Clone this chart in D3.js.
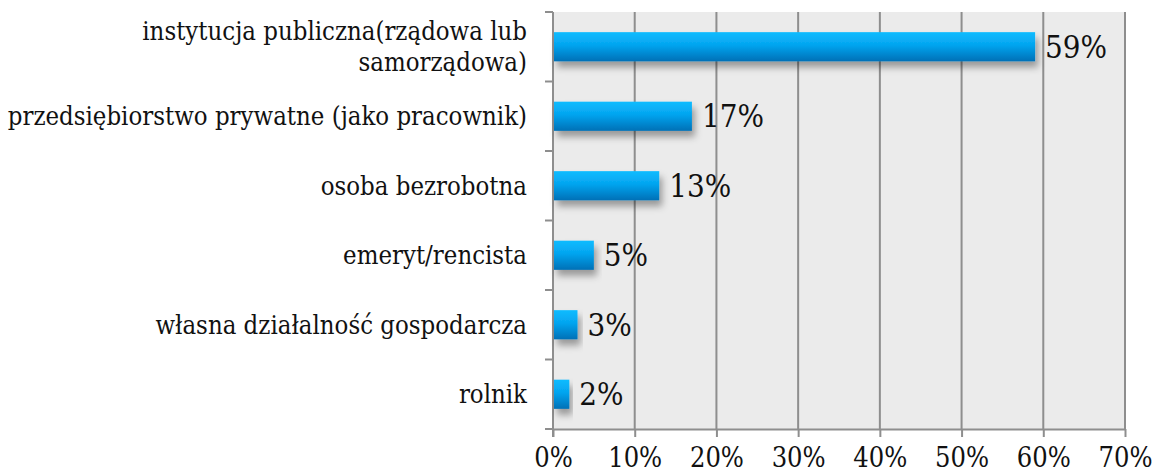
<!DOCTYPE html>
<html>
<head>
<meta charset="utf-8">
<script src="https://cdn.jsdelivr.net/npm/d3@7"></script>
<style>
  body { margin: 0; background: #fff; }
  svg text { font-family: "DejaVu Serif Condensed", "DejaVu Serif", serif; font-stretch: condensed; fill: #111; }
</style>
</head>
<body>
<div id="chart"></div>
<script>
// Chart data
const categories = [
  ['instytucja publiczna(rządowa lub', 'samorządowa)'],
  ['przedsiębiorstwo prywatne (jako pracownik)'],
  ['osoba bezrobotna'],
  ['emeryt/rencista'],
  ['własna działalność gospodarcza'],
  ['rolnik']
];
const values = [0.59, 0.17, 0.13, 0.05, 0.03, 0.02];
const valueLabels = ['59%', '17%', '13%', '5%', '3%', '2%'];
const xTicks = [0, 0.1, 0.2, 0.3, 0.4, 0.5, 0.6, 0.7];

const width = 1152, height = 474;
const plot = { left: 553, right: 1125, top: 12, bottom: 429 };

const svg = d3.select('#chart').append('svg')
  .attr('width', width)
  .attr('height', height);

const defs = svg.append('defs');
const grad = defs.append('linearGradient')
  .attr('id', 'barGrad')
  .attr('x1', 0).attr('y1', 0).attr('x2', 0).attr('y2', 1);
grad.append('stop').attr('offset', '0%').attr('stop-color', '#12bcff');
grad.append('stop').attr('offset', '45%').attr('stop-color', '#03a4ef');
grad.append('stop').attr('offset', '100%').attr('stop-color', '#0270b6');

const shadow = defs.append('filter')
  .attr('id', 'barShadow')
  .attr('x', '-10%').attr('y', '-30%').attr('width', '130%').attr('height', '190%');
shadow.append('feDropShadow')
  .attr('dx', 3).attr('dy', 6).attr('stdDeviation', 3.5)
  .attr('flood-color', '#000').attr('flood-opacity', 0.35);

const x = d3.scaleLinear().domain([0, 0.7]).range([plot.left, plot.right]);
const y = d3.scaleBand()
  .domain(d3.range(categories.length))
  .range([plot.top, plot.bottom])
  .padding(0);

// Plot background
svg.append('rect')
  .attr('x', plot.left).attr('y', plot.top)
  .attr('width', plot.right - plot.left)
  .attr('height', plot.bottom - plot.top)
  .attr('fill', '#ebebeb');

// Vertical gridlines
svg.append('g')
  .selectAll('line')
  .data(xTicks.slice(1))
  .enter()
  .append('line')
  .attr('x1', d => x(d)).attr('x2', d => x(d))
  .attr('y1', plot.top).attr('y2', plot.bottom)
  .attr('stroke', '#8e8e8e')
  .attr('stroke-width', 2);

// Bottom axis
const xAxis = svg.append('g')
  .attr('transform', `translate(0,${plot.bottom})`)
  .call(d3.axisBottom(x).tickValues(xTicks).tickFormat(d3.format('.0%')).tickSize(8).tickSizeOuter(0));
xAxis.select('.domain').attr('stroke', '#8e8e8e').attr('stroke-width', 2);
xAxis.selectAll('.tick line').attr('stroke', '#8e8e8e').attr('stroke-width', 2);
xAxis.selectAll('.tick text')
  .attr('y', 19)
  .attr('dy', '0.71em')
  .style('font-family', '"DejaVu Serif Condensed", "DejaVu Serif", serif')
  .style('font-stretch', 'condensed')
  .style('font-size', '27px')
  .attr('fill', '#111');

// Left axis line and ticks
const yTicks = d3.range(categories.length + 1).map(i => plot.top + i * y.step());
svg.append('line')
  .attr('x1', plot.left).attr('x2', plot.left)
  .attr('y1', plot.top).attr('y2', plot.bottom + 8)
  .attr('stroke', '#8e8e8e').attr('stroke-width', 2);
svg.append('g')
  .selectAll('line')
  .data(yTicks)
  .enter()
  .append('line')
  .attr('x1', plot.left - 8).attr('x2', plot.left)
  .attr('y1', d => d).attr('y2', d => d)
  .attr('stroke', '#8e8e8e').attr('stroke-width', 2);

// Bars
const barH = y.bandwidth() * 0.42;
svg.append('g')
  .selectAll('rect')
  .data(values)
  .enter()
  .append('rect')
  .attr('x', x(0) + 1)
  .attr('y', (d, i) => y(i) + y.bandwidth() / 2 - barH / 2)
  .attr('width', d => x(d) - x(0) - 1)
  .attr('height', barH)
  .attr('fill', 'url(#barGrad)')
  .attr('filter', 'url(#barShadow)');

// Value labels
svg.append('g')
  .selectAll('text')
  .data(values)
  .enter()
  .append('text')
  .attr('x', d => x(d) + 10)
  .attr('y', (d, i) => y(i) + y.bandwidth() / 2)
  .attr('dy', '0.36em')
  .style('font-size', '31px')
  .text((d, i) => valueLabels[i]);

// Category labels
const catLabel = svg.append('g')
  .selectAll('text')
  .data(categories)
  .enter()
  .append('text')
  .attr('text-anchor', 'end')
  .style('font-size', '25.5px')
  .attr('transform', (d, i) => `translate(527,${y(i) + y.bandwidth() / 2})`);

catLabel.selectAll('tspan')
  .data(d => d.map((t, j) => ({ t, j, n: d.length })))
  .enter()
  .append('tspan')
  .attr('x', 0)
  .attr('y', d => (d.j - (d.n - 1) / 2) * 31)
  .attr('dy', '0.36em')
  .text(d => d.t);
</script>
</body>
</html>
